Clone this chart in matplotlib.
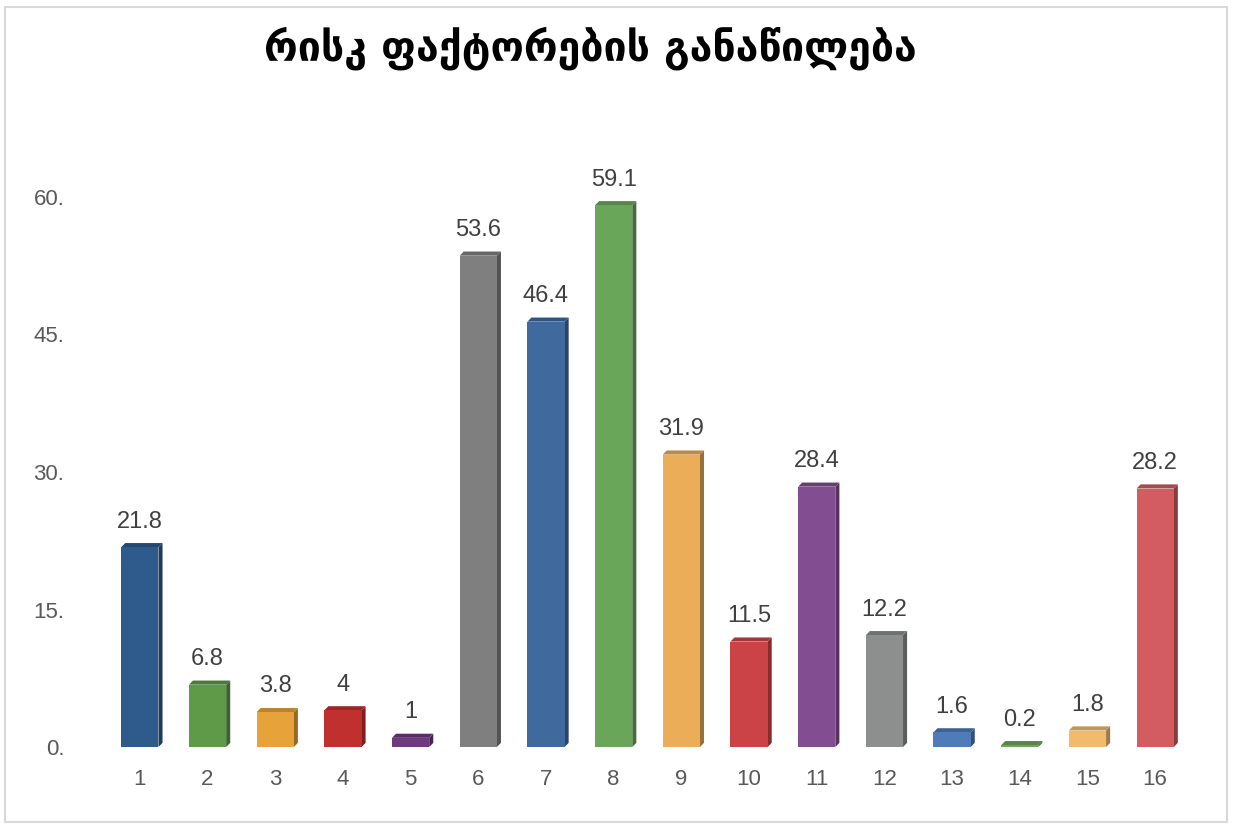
import matplotlib
matplotlib.use("Agg")
import matplotlib.pyplot as plt
from matplotlib.patches import Rectangle, Polygon
import numpy as np

# data
categories = [str(i) for i in range(1, 17)]
values = [21.8, 6.8, 3.8, 4, 1, 53.6, 46.4, 59.1, 31.9, 11.5, 28.4, 12.2, 1.6, 0.2, 1.8, 28.2]
labels = ["21.8", "6.8", "3.8", "4", "1", "53.6", "46.4", "59.1", "31.9", "11.5",
          "28.4", "12.2", "1.6", "0.2", "1.8", "28.2"]
bar_colors = ["#2E5A8C", "#5E9A48", "#E8A23A", "#C0302F", "#6F3A7D", "#7F7F7F",
              "#40699E", "#6AA65A", "#EBAD57", "#CB4346", "#834E91", "#8C8F8E",
              "#4F7BB8", "#6DA55B", "#F2BB6B", "#D25C60"]
yticks = [0, 15, 30, 45, 60]
ytick_labels = ["0.", "15.", "30.", "45.", "60."]
title = "რისკ ფაქტორების განაწილება"

plt.rcParams["font.family"] = ["Liberation Sans", "DejaVu Sans"]

fig = plt.figure(figsize=(12.35, 8.25), dpi=100)
ax = fig.add_axes([106 / 1235, 78 / 825, (1189 - 106) / 1235, (747 - 120) / 825])

x = np.arange(1, len(values) + 1)
w = 0.55
dx, dy = 0.06, 0.45  # fake 3d depth


def darker(c, f=0.65):
    r, g, b = matplotlib.colors.to_rgb(c)
    return (r * f, g * f, b * f)


for xi, v, c in zip(x, values, bar_colors):
    left = xi - w / 2
    # side face
    ax.add_patch(Polygon([(left + w, 0), (left + w + dx, dy), (left + w + dx, v + dy),
                          (left + w, v)], closed=True, color=darker(c), lw=0))
    # top face
    ax.add_patch(Polygon([(left, v), (left + dx, v + dy), (left + w + dx, v + dy),
                          (left + w, v)], closed=True, color=darker(c, 0.8), lw=0))
    ax.add_patch(Rectangle((left, 0), w, v, color=c, lw=0))

for xi, v, t in zip(x, values, labels):
    ax.text(xi, v + 1.6, t, ha="center", va="bottom", fontsize=17, color="#404040")

ax.set_xlim(0.5, 16.5)
ax.set_ylim(0, 68.4)
ax.set_xticks(x)
ax.set_xticklabels(categories)
ax.set_yticks(yticks)
ax.set_yticklabels(ytick_labels)
ax.tick_params(axis="both", length=0, labelsize=16, colors="#595959")
ax.tick_params(axis="x", pad=16)
ax.tick_params(axis="y", pad=30)
for s in ax.spines.values():
    s.set_visible(False)

fig.text(590 / 1235, 1 - 48 / 825, title, ha="center", va="center",
         fontsize=29.5, fontweight="bold", family=["DejaVu Sans"])

# light frame around the chart
fig.patches.append(Rectangle((5 / 1235, 3 / 825), 1222 / 1235, 815 / 825,
                             transform=fig.transFigure, fill=False,
                             edgecolor="#D9D9D9", lw=1.5))

fig.savefig("out.png", dpi=100)
